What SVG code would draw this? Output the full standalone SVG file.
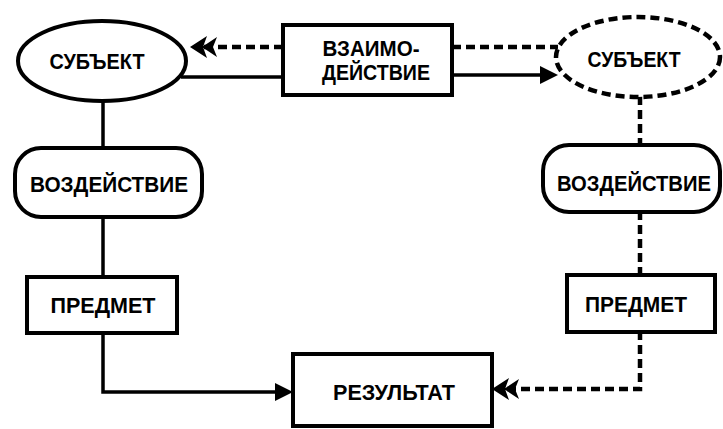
<svg xmlns="http://www.w3.org/2000/svg" width="723" height="429" viewBox="0 0 723 429">
<style>
.shape{fill:#fff;stroke:#000;stroke-width:4}
.dash{stroke-width:4.5;stroke-dasharray:9,5}
.t{font-family:"Liberation Sans",Arial,sans-serif;font-weight:bold;font-size:22px;fill:#000;text-anchor:middle}
.ln{fill:none;stroke:#000;stroke-width:3.5}
.dl{fill:none;stroke:#000;stroke-width:4.5;stroke-dasharray:9,5}
</style>
<defs>
<marker id="solid" markerUnits="userSpaceOnUse" viewBox="0 0 18 18" markerWidth="18" markerHeight="18" refX="8" refY="9" orient="auto">
<path d="M0,0 L18,9 L0,18 Z" fill="#000"/>
</marker>
<marker id="double" markerUnits="userSpaceOnUse" viewBox="0 0 28 22" markerWidth="28" markerHeight="22" refX="14" refY="11" orient="auto">
<path d="M28,11 L11,0 L15,11 L11,22 Z M16,11 L1,1 L5,11 L1,21 Z" fill="#000"/>
</marker>
</defs>
<g id="connectors">
<line class="ln" x1="181" y1="77" x2="285" y2="77"/>
<line class="dl" x1="283" y1="47" x2="204" y2="47" marker-end="url(#double)"/>
<line class="dl" x1="452" y1="47" x2="558" y2="47"/>
<line class="ln" x1="452" y1="75" x2="548" y2="75" marker-end="url(#solid)"/>
<line class="ln" x1="103" y1="100" x2="103" y2="149"/>
<line class="ln" x1="103" y1="216" x2="103" y2="278"/>
<polyline class="ln" points="103,332 103,392 283,392" marker-end="url(#solid)"/>
<line class="dl" x1="640" y1="96" x2="640" y2="146"/>
<line class="dl" x1="640" y1="211" x2="640" y2="276"/>
<polyline class="dl" points="640,331 640,389 506,389" marker-end="url(#double)"/>
</g>
<g id="subject-left">
<ellipse class="shape" cx="102" cy="61" rx="84" ry="40"/>
<text class="t" x="97" y="69" textLength="95" lengthAdjust="spacingAndGlyphs">СУБЪЕКТ</text>
</g>
<g id="interaction">
<rect class="shape" x="283" y="25" width="169" height="70"/>
<text class="t" x="371" y="56" textLength="97" lengthAdjust="spacingAndGlyphs">ВЗАИМО-</text>
<text class="t" x="376" y="80" textLength="108" lengthAdjust="spacingAndGlyphs">ДЕЙСТВИЕ</text>
</g>
<g id="subject-right">
<ellipse class="shape dash" cx="638" cy="57" rx="82" ry="40"/>
<text class="t" x="634" y="67" textLength="93" lengthAdjust="spacingAndGlyphs">СУБЪЕКТ</text>
</g>
<g id="action-left">
<rect class="shape" x="15" y="148" width="187" height="69" rx="26" ry="26"/>
<text class="t" x="109" y="192" textLength="158" lengthAdjust="spacingAndGlyphs">ВОЗДЕЙСТВИЕ</text>
</g>
<g id="action-right">
<rect class="shape" x="543" y="145" width="177" height="67" rx="26" ry="26"/>
<text class="t" x="634" y="191" textLength="154" lengthAdjust="spacingAndGlyphs">ВОЗДЕЙСТВИЕ</text>
</g>
<g id="object-left">
<rect class="shape" x="27" y="277" width="150" height="56"/>
<text class="t" x="103" y="313" textLength="105" lengthAdjust="spacingAndGlyphs">ПРЕДМЕТ</text>
</g>
<g id="object-right">
<rect class="shape" x="567" y="275" width="148" height="57"/>
<text class="t" x="636" y="312" textLength="102" lengthAdjust="spacingAndGlyphs">ПРЕДМЕТ</text>
</g>
<g id="result">
<rect class="shape" x="293" y="354" width="199" height="72"/>
<text class="t" x="394" y="400" textLength="122" lengthAdjust="spacingAndGlyphs">РЕЗУЛЬТАТ</text>
</g>
</svg>
